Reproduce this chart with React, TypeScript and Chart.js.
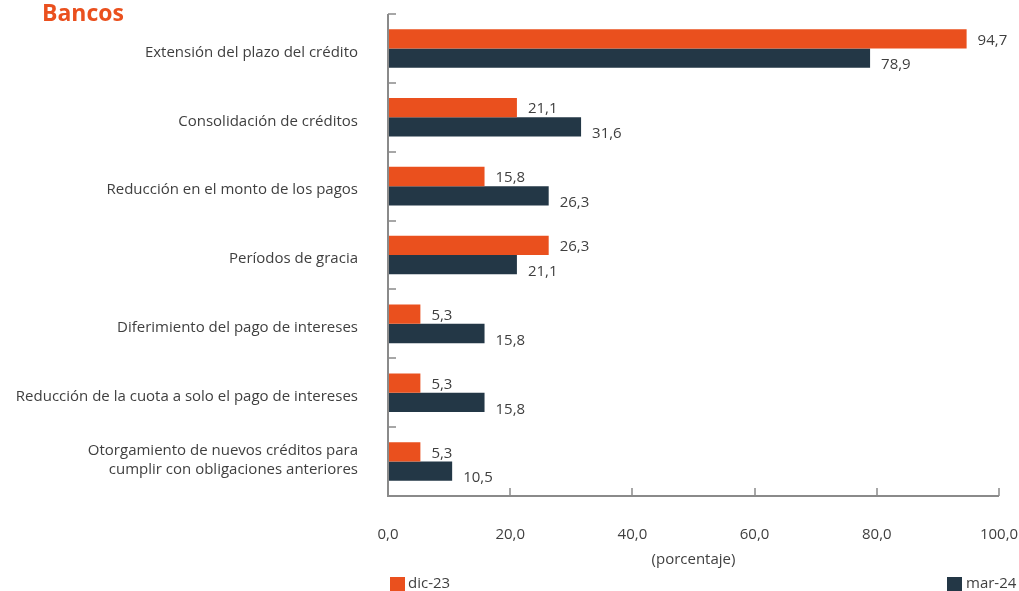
import React, { useEffect, useRef } from "react";
import { Chart, registerables } from "chart.js";

Chart.register(...registerables);

const TITLE = "Bancos";
const AXIS_TITLE = "(porcentaje)";
const categories: (string | string[])[] = [
  "Extensión del plazo del crédito",
  "Consolidación de créditos",
  "Reducción en el monto de los pagos",
  "Períodos de gracia",
  "Diferimiento del pago de intereses",
  "Reducción de la cuota a solo el pago de intereses",
  ["Otorgamiento de nuevos créditos para", "cumplir con obligaciones anteriores"],
];
const seriesNames = ["dic-23", "mar-24"];
const dic23 = [94.7, 21.1, 15.8, 26.3, 5.3, 5.3, 5.3];
const mar24 = [78.9, 31.6, 26.3, 21.1, 15.8, 15.8, 10.5];
const xTicks = [0, 20, 40, 60, 80, 100];

const ORANGE = "#EA501E";
const NAVY = "#233746";
const AXIS = "#8a8a8a";
const TEXT = "#3f3f3f";
const FONT = "'Open Sans', 'DejaVu Sans', sans-serif";

const fmt = (v: number) => v.toFixed(1).replace(".", ",");

const zeroPad = (s: any) => {
  s.paddingTop = 0;
  s.paddingBottom = 0;
  s.paddingLeft = 0;
  s.paddingRight = 0;
};

const customPlugin = {
  id: "custom",
  afterDraw(chart: any) {
    const ctx = chart.ctx;
    const area = chart.chartArea;
    const xs = chart.scales.x;
    const ys = chart.scales.y;
    const n = categories.length;
    ctx.save();
    // axes
    ctx.strokeStyle = AXIS;
    ctx.lineWidth = 2;
    ctx.beginPath();
    ctx.moveTo(area.left, area.top);
    ctx.lineTo(area.left, area.bottom);
    ctx.lineTo(area.right, area.bottom);
    ctx.stroke();
    ctx.lineWidth = 1.5;
    ctx.beginPath();
    for (let i = 0; i < n; i++) {
      const y = Math.round(area.top + (i * (area.bottom - area.top)) / n);
      ctx.moveTo(area.left, y);
      ctx.lineTo(area.left + 8, y);
    }
    xTicks.forEach((t) => {
      if (t === 0) return;
      const x = Math.round(xs.getPixelForValue(t));
      ctx.moveTo(x, area.bottom);
      ctx.lineTo(x, area.bottom - 8);
    });
    ctx.stroke();

    // category labels
    ctx.font = `15px ${FONT}`;
    ctx.fillStyle = TEXT;
    ctx.textAlign = "right";
    ctx.textBaseline = "middle";
    categories.forEach((lab, i) => {
      const cy = ys.getPixelForValue(i);
      const xr = area.left - 30;
      if (Array.isArray(lab)) {
        ctx.fillText(lab[0], xr, cy - 11);
        ctx.fillText(lab[1], xr, cy + 8.5);
      } else {
        ctx.fillText(lab, xr, cy + 4);
      }
    });

    // data labels
    ctx.textAlign = "left";
    chart.data.datasets.forEach((ds: any, di: number) => {
      const meta = chart.getDatasetMeta(di);
      meta.data.forEach((bar: any, i: number) => {
        const off = di === 0 ? 1.5 : 7;
        ctx.fillText(fmt(ds.data[i]), bar.x + 11, bar.y + off);
      });
    });

    // title
    ctx.font = `bold 23px ${FONT}`;
    ctx.fillStyle = ORANGE;
    ctx.textBaseline = "alphabetic";
    ctx.fillText(TITLE, 42, 21);

    // legend
    ctx.font = `15px ${FONT}`;
    ctx.textBaseline = "middle";
    ctx.fillStyle = ORANGE;
    ctx.fillRect(390, 577, 15, 14);
    ctx.fillStyle = TEXT;
    ctx.fillText(seriesNames[0], 408, 584);
    ctx.fillStyle = NAVY;
    ctx.fillRect(947, 577, 15, 14);
    ctx.fillStyle = TEXT;
    ctx.fillText(seriesNames[1], 966, 584);
    ctx.restore();
  },
};

export default function App() {
  const ref = useRef<HTMLCanvasElement>(null);
  useEffect(() => {
    if (!ref.current) return;
    const chart = new Chart(ref.current, {
      type: "bar",
      data: {
        labels: categories,
        datasets: [
          { label: seriesNames[0], data: dic23, backgroundColor: ORANGE },
          { label: seriesNames[1], data: mar24, backgroundColor: NAVY },
        ],
      },
      options: {
        indexAxis: "y",
        animation: false,
        responsive: false,
        layout: { padding: { top: 14, right: 20, bottom: 20, left: 0 } },
        datasets: { bar: { categoryPercentage: 0.56, barPercentage: 1 } },
        plugins: { legend: { display: false }, tooltip: { enabled: false } },
        scales: {
          x: {
            min: 0,
            max: 100,
            afterFit: (s: any) => {
              s.height = 75;
              zeroPad(s);
            },
            afterBuildTicks: (s: any) => {
              s.ticks = xTicks.map((v) => ({ value: v }));
            },
            grid: { display: false, drawTicks: false },
            border: { display: false },
            ticks: {
              padding: 30,
              color: TEXT,
              font: { family: FONT, size: 15 },
              callback: (v: any) => fmt(Number(v)),
            },
            title: {
              display: true,
              text: AXIS_TITLE,
              color: TEXT,
              font: { family: FONT, size: 15 },
              padding: { top: 0, bottom: 2 },
            },
          },
          y: {
            afterFit: (s: any) => {
              s.width = 388;
              zeroPad(s);
            },
            grid: { display: false, drawTicks: false },
            border: { display: false },
            ticks: { display: false },
          },
        },
      },
      plugins: [customPlugin],
    } as any);
    return () => chart.destroy();
  }, []);
  return (
    <div style={{ position: "absolute", left: 0, top: 0, width: 1019, height: 591, background: "#fff" }}>
      <canvas ref={ref} width={1019} height={591} style={{ display: "block" }} />
    </div>
  );
}
